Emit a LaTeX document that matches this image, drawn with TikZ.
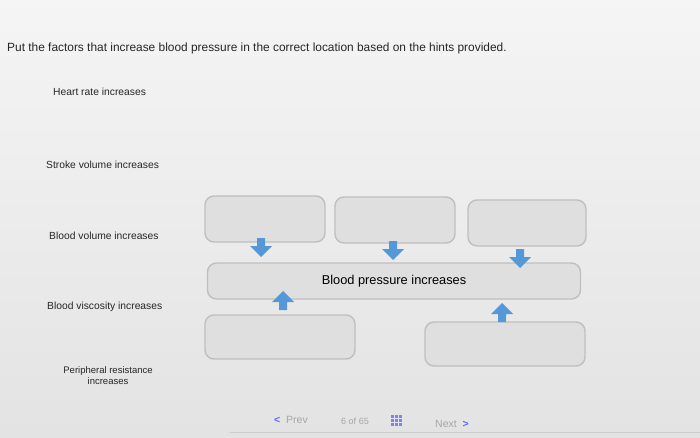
\documentclass[tikz,border=0pt]{standalone}
\usepackage{fontspec}
\setmainfont{Liberation Sans}
\begin{document}
\begin{tikzpicture}[x=1pt,y=-1pt,
  lbl/.style={font=\fontsize{10.3}{12}\selectfont, text=black!85, anchor=west, inner sep=0},
  box/.style={draw=gray!50, line width=1.4pt, fill=gray!25, rounded corners=9pt},
  arr/.style={fill=cyan!60!blue!70, draw=none},
  nav/.style={font=\fontsize{10.5}{12}\selectfont, inner sep=0}]
\useasboundingbox (0,0) rectangle (700,438);
\shade[top color=gray!8, bottom color=gray!22] (0,0) rectangle (700,438);
\node[lbl, font=\fontsize{11.9}{14}\selectfont] (title) at (7,48) {Put the factors that increase blood pressure in the correct location based on the hints provided.};
\node[lbl] (h) at (53,92) {Heart rate increases};
\node[lbl] (s) at (46,165) {Stroke volume increases};
\node[lbl] (v) at (49,236) {Blood volume increases};
\node[lbl] (bv) at (47,307) {Blood viscosity increases};
\node[lbl, anchor=center, align=center, font=\fontsize{9.5}{11}\selectfont] (p) at (108,376) {Peripheral resistance\\increases};
\node[box, minimum width=120, minimum height=46] (t1) at (265,219) {};
\node[box, minimum width=120, minimum height=46] (t2) at (395,220) {};
\node[box, minimum width=118, minimum height=46] (t3) at (527,223) {};
\node[box, minimum width=373, minimum height=36, font=\fontsize{12.8}{15}\selectfont] (bp) at (394,281) {Blood pressure increases};
\node[box, minimum width=150, minimum height=44] (b1) at (280,337) {};
\node[box, minimum width=160, minimum height=44] (b2) at (505,344) {};
\foreach \x/\y in {261/238, 393/241, 520/249}
  \fill[arr] (\x-4,\y) rectangle (\x+4,\y+8) (\x-11,\y+8) -- (\x+11,\y+8) -- (\x,\y+19) -- cycle;
\foreach \x/\y in {283/310, 502/322}
  \fill[arr] (\x-4,\y) rectangle (\x+4,\y-8) (\x-11,\y-8) -- (\x+11,\y-8) -- (\x,\y-19) -- cycle;
\node[nav, text=gray!70] (prev) at (291,420) {{\color{blue!60}\textbf{<}}\ \ Prev};
\node[nav, text=gray!70, font=\fontsize{9}{10}\selectfont] (pg) at (355,421) {6 of 65};
\foreach \i in {0,1,2} \foreach \j in {0,1,2}
  \fill[blue!50] (391+\i*4,415+\j*4) rectangle (394+\i*4,418+\j*4);
\node[nav, text=gray!70] (next) at (452,424) {Next\ \ {\color{blue!60}\textbf{>}}};
\draw[gray!40, line width=1pt] (230,432) -- (700,432);
\end{tikzpicture}
\end{document}
